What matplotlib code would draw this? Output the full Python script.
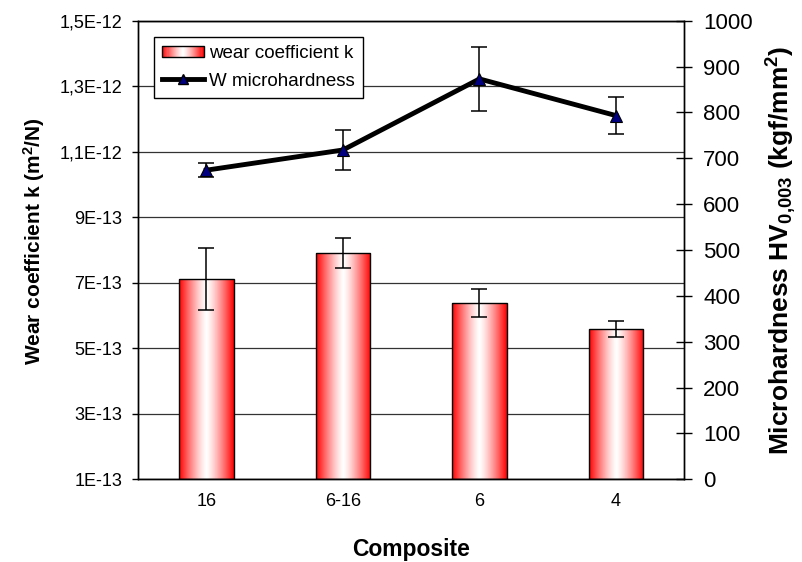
import numpy as np
import matplotlib
matplotlib.use("Agg")
import matplotlib.pyplot as plt
from matplotlib.patches import Rectangle
from matplotlib.lines import Line2D
from matplotlib.legend_handler import HandlerBase

plt.rcParams['font.family'] = ['Liberation Sans', 'DejaVu Sans']
plt.rcParams['mathtext.default'] = 'regular'

# ---- data ----
categories = ["16", "6-16", "6", "4"]
wear_k = [7.12e-13, 7.91e-13, 6.38e-13, 5.59e-13]
wear_k_err = [0.95e-13, 0.47e-13, 0.43e-13, 0.24e-13]
hardness = [674, 718, 873, 793]
hardness_err = [15, 44, 70, 41]
left_ticks = [1e-13, 3e-13, 5e-13, 7e-13, 9e-13, 1.1e-12, 1.3e-12, 1.5e-12]
left_ticklabels = ["1E-13", "3E-13", "5E-13", "7E-13", "9E-13", "1,1E-12", "1,3E-12", "1,5E-12"]
right_ticks = list(range(0, 1001, 100))

fig = plt.figure(figsize=(8.03, 5.62), dpi=100)
ax1 = fig.add_axes([0.1719, 0.1472, 0.6803, 0.8160])
ax2 = ax1.twinx()

x = np.arange(len(categories))
bw = 0.4

# gradient red-white-red
t = np.linspace(0, 1, 256)
w = np.abs(2 * t - 1) ** 1.3
grad = np.ones((1, 256, 3))
grad[0, :, 1] = 1 - w
grad[0, :, 2] = 1 - w

bars = ax1.bar(x, np.array(wear_k) - left_ticks[0], bottom=left_ticks[0], width=bw,
               facecolor='none', edgecolor='black', linewidth=1.0, zorder=3)
for b in bars:
    bx, by = b.get_x(), b.get_y()
    im = ax1.imshow(grad, extent=[bx, bx + b.get_width(), by, by + b.get_height()],
                    aspect='auto', zorder=2, interpolation='bilinear')
    im.set_clip_path(b)
ax1.set_aspect('auto')
ax1.set_xlim(-0.5, len(categories) - 0.5)
ax1.set_ylim(left_ticks[0], left_ticks[-1])

ax1.errorbar(x, wear_k, yerr=wear_k_err, fmt='none', ecolor='black', elinewidth=1.1,
             capsize=6, capthick=1.1, zorder=4)

ax1.set_yticks(left_ticks)
ax1.set_yticklabels(left_ticklabels, fontsize=13)
ax1.set_xticks(x)
ax1.set_xticklabels(categories, fontsize=13)
ax1.tick_params(axis='x', length=0, pad=10)
ax1.tick_params(axis='y', direction='out', length=4.5, width=1, pad=7)
ax1.grid(axis='y', color='#333333', linewidth=0.9, zorder=0)
ax1.set_axisbelow(True)

ax2.set_ylim(0, 1000)
ax2.set_yticks(right_ticks)
ax2.set_yticklabels([str(v) for v in right_ticks], fontsize=16)
ax2.tick_params(axis='y', direction='inout', length=11, width=1, pad=8)
ax2.errorbar(x, hardness, yerr=hardness_err, fmt='none', ecolor='black', elinewidth=1.1,
             capsize=6, capthick=1.1, zorder=3)
ax2.plot(x, hardness, color='black', linewidth=3.5, marker='^', markersize=8.5,
         markerfacecolor='#000080', markeredgecolor='black', markeredgewidth=0.8, zorder=4)

for ax in (ax1, ax2):
    for s in ax.spines.values():
        s.set_linewidth(1.0)
        s.set_color('black')

ax1.set_ylabel("Wear coefficient k (m$^2$/N)", fontsize=15, fontweight='bold')
ax1.yaxis.set_label_coords(-0.166, 0.52)
ax2.set_ylabel("Microhardness HV$_{0{,}003}$ (kgf/mm$^2$)", fontsize=19, fontweight='bold')
ax2.yaxis.set_label_coords(1.146, 0.5)
ax1.set_xlabel("Composite", fontsize=16.5, fontweight='bold')
ax1.xaxis.set_label_coords(0.5, -0.128)


class GradientHandler(HandlerBase):
    def create_artists(self, legend, orig_handle, xdescent, ydescent, width, height, fontsize, trans):
        arts = []
        n = 40
        y0 = -ydescent + height * 0.1
        h = height * 0.8
        for i in range(n):
            tt = (i + 0.5) / n
            ww = abs(2 * tt - 1) ** 1.3
            r = Rectangle((-xdescent + width * i / n, y0), width / n + 0.2, h,
                          facecolor=(1, 1 - ww, 1 - ww), edgecolor='none', transform=trans)
            arts.append(r)
        arts.append(Rectangle((-xdescent, y0), width, h, facecolor='none',
                              edgecolor='black', linewidth=1.0, transform=trans))
        return arts


bar_handle = Rectangle((0, 0), 1, 1)
line_handle = Line2D([], [], color='black', linewidth=3.5, marker='^', markersize=7,
                     markerfacecolor='#000080', markeredgecolor='black')
leg = ax2.legend([bar_handle, line_handle], ["wear coefficient k", "W microhardness"],
                 handler_map={Rectangle: GradientHandler()},
                 loc='upper left', bbox_to_anchor=(0.029, 0.965), borderaxespad=0,
                 fontsize=13.5, frameon=True, fancybox=False, edgecolor='black',
                 framealpha=1, handlelength=2.2, handletextpad=0.3, labelspacing=0.55,
                 borderpad=0.45)
leg.get_frame().set_linewidth(1.0)

fig.savefig("out.png", dpi=100)
